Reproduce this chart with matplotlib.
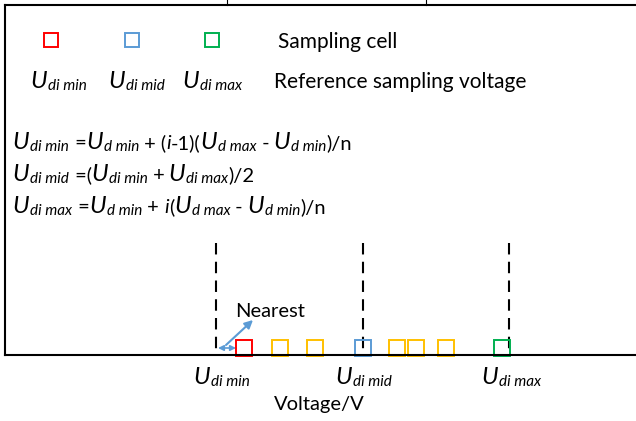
import matplotlib
matplotlib.use('Agg')
import matplotlib.pyplot as plt
from matplotlib.transforms import Affine2D

plt.rcParams['font.family'] = ['Lato', 'DejaVu Sans']

W, H = 636, 421

# sampling cells along the voltage axis (0 = U_di min, 1 = U_di max)
cell_volts = [0.096, 0.218, 0.338, 0.502, 0.618, 0.683, 0.785, 0.976]
cell_colors = ['#FF0000', '#FFC000', '#FFC000', '#5B9BD5',
               '#FFC000', '#FFC000', '#FFC000', '#00B050']
ref_volts = [0.0, 0.5, 1.0]
ref_subs = ['di min', 'di mid', 'di max']
legend_colors = ['#FF0000', '#5B9BD5', '#00B050']

fig = plt.figure(figsize=(W / 100, H / 100), dpi=100)
# pixel coords measured from the top-left corner
tl = Affine2D().scale(1, -1).translate(0, H)

ax = fig.add_axes([5 / W, (H - 355) / H, 1.0, 350 / H])
ax.set_xlim(-211 / 293, 425 / 293)
ax.set_ylim(0, 350)
for s in ['left', 'top', 'bottom']:
    ax.spines[s].set_linewidth(1.5)
ax.spines['right'].set_visible(False)
ax.set_xticks([])
ax.set_yticks([])
ax.patch.set_alpha(0)

# small marks above the frame
for xp in [227, 426]:
    ax.plot([xp, xp], [0, 5], color='black', lw=0.8, transform=tl, clip_on=False)

# dashes start at the top of each reference line
ax.vlines(ref_volts, 112, 0, colors='black', lw=1.5, linestyles=(0, (5.5, 3.5)))
for v, c in zip(cell_volts, cell_colors):
    ax.plot(v, 7, marker='s', ms=11.5, mfc='none', mec=c, mew=1.4, clip_on=False)

r = fig.canvas.get_renderer()

SIZES = {'U': 17.5, 'sub': 11, 'txt': 14.5, 'it': 14.5}


def rich(x, y, pieces):
    for s, kind, gap in pieces:
        x += gap
        style = 'normal' if kind == 'txt' else 'italic'
        dy = 2 if kind == 'sub' else 0
        t = fig.text(x, y + dy, s, transform=tl, fontsize=SIZES[kind],
                     style=style, va='baseline', ha='left')
        x += t.get_window_extent(r).width
    return x


def U(sub, gap=0):
    return [('U', 'U', gap), (sub, 'sub', 1)]


# legend
for i, c in enumerate(legend_colors):
    ax.plot([51 + 80.5 * i], [40], marker='s', ms=10, mfc='none', mec=c,
            mew=1.4, transform=tl, clip_on=False)
fig.text(278, 48, 'Sampling cell', transform=tl, fontsize=15, va='baseline')
for xs, sub in zip([30, 108, 182], ref_subs):
    rich(xs, 88, U(sub))
fig.text(274, 88, 'Reference sampling voltage', transform=tl, fontsize=15,
         va='baseline')

# formulas
line1 = (U('di min') + [(' =', 'txt', 1)] + U('d min') + [(' + (', 'txt', 0),
         ('i', 'it', 0), ('-1)(', 'txt', 0)] + U('d max') + [(' -', 'txt', 0)]
         + U('d min', 4) + [(')/n', 'txt', 0)])
line2 = (U('di mid') + [(' =(', 'txt', 1)] + U('di min') + [(' +', 'txt', 0)]
         + U('di max', 4) + [(')/2', 'txt', 0)])
line3 = (U('di max') + [(' =', 'txt', 1)] + U('d min') + [(' + ', 'txt', 0),
         ('i', 'it', 0), ('(', 'txt', 0)] + U('d max') + [(' -', 'txt', 0)]
         + U('d min', 4) + [(')/n', 'txt', 0)])
for yb, ln in zip([149, 181, 213], [line1, line2, line3]):
    rich(12, yb, ln)

# axis annotations
for xs, sub in zip([193, 335, 481], ref_subs):
    rich(xs, 384, U(sub))
fig.text(274, 410, 'Voltage/V', transform=tl, fontsize=14.5, va='baseline')
fig.text(235, 317, 'Nearest', transform=tl, fontsize=14.5, va='baseline')

blue = '#5B9BD5'
ax.annotate('', xy=(236, 348), xytext=(218, 348), xycoords=tl, textcoords=tl,
            arrowprops=dict(arrowstyle='<|-|>', color=blue, lw=1.2,
                            shrinkA=0, shrinkB=0, mutation_scale=8))
ax.annotate('', xy=(253, 320), xytext=(226, 345), xycoords=tl, textcoords=tl,
            arrowprops=dict(arrowstyle='-|>', color=blue, lw=1.5,
                            shrinkA=0, shrinkB=0, mutation_scale=12))

fig.savefig('out.png', dpi=100)
